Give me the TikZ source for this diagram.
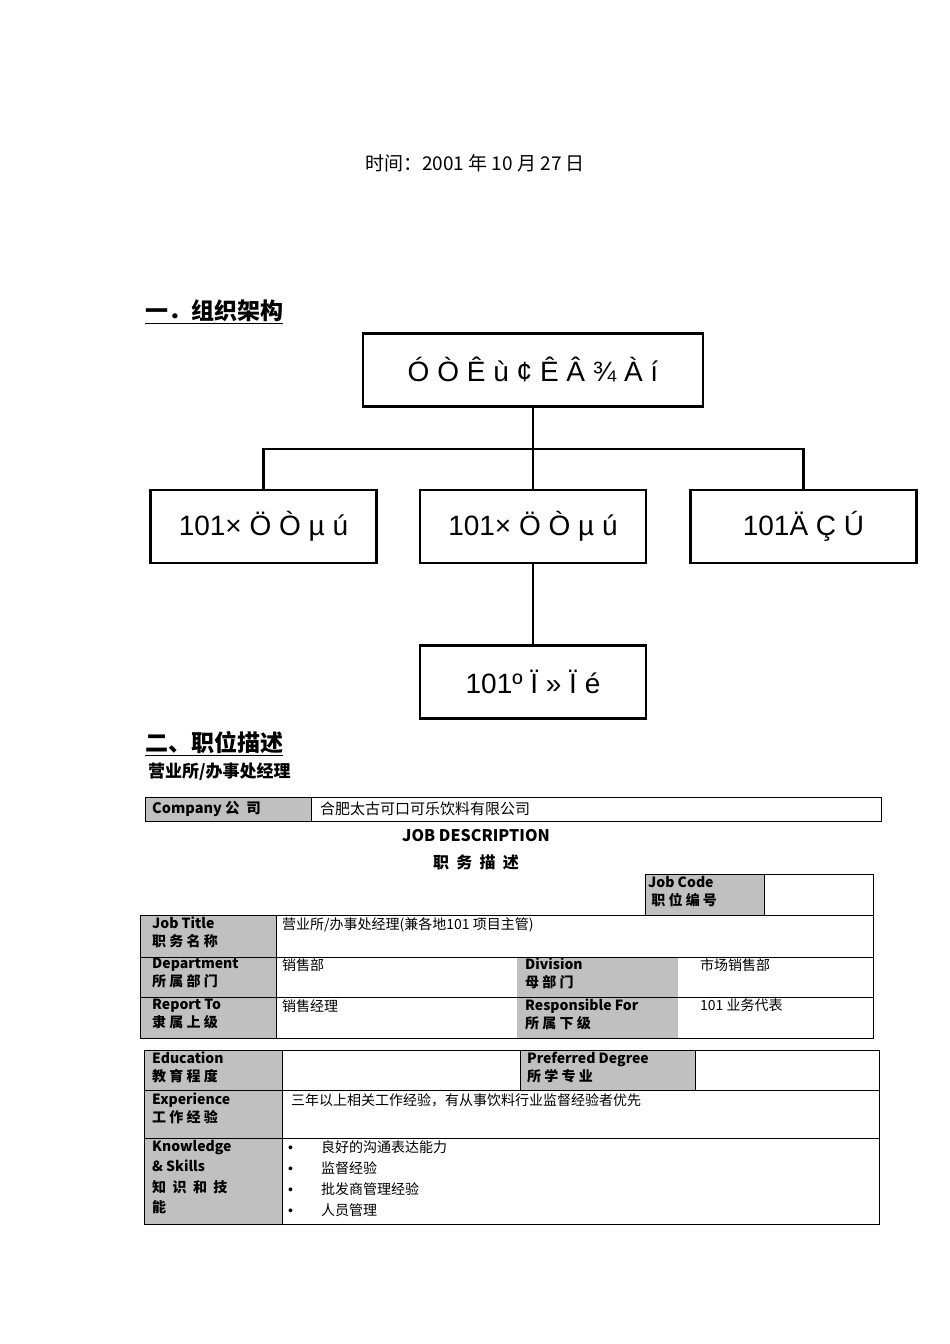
\documentclass[tikz,border=0pt]{standalone}
\usepackage{fontspec}
\setmainfont{Noto Sans CJK SC}
\newfontfamily\lat{Liberation Sans}
\definecolor{cellgray}{HTML}{C0C0C0}
\begin{document}
\begin{tikzpicture}[x=1pt,y=-1pt,
  orgbox/.style={draw,line width=2.2pt,minimum width=#1,minimum height=73pt,font=\lat\fontsize{28}{30}\selectfont},
  orgbox/.default=226pt,
  link/.style={line width=2.2pt},
  cellline/.style={draw,line width=1pt},
  graycell/.style={fill=cellgray,draw,line width=1pt},
  lbl/.style={anchor=north west,align=left,font=\fontsize{14}{18}\selectfont,inner sep=0pt},
  txt/.style={anchor=north west,align=left,font=\fontsize{14}{18}\selectfont,inner sep=0pt}]
\useasboundingbox (0,0) rectangle (950,1344);
\node[font=\fontsize{19}{22}\selectfont] (date) at (475,163) {时间：2001 年 10 月 27 日};
\node[anchor=west,font=\bfseries\fontsize{23}{26}\selectfont,inner sep=0pt] (h1) at (145,312) {\underline{一．组织架构}};
% org chart
\node[orgbox=340pt] (top) at (533,370) {Ó Ò Ê ù ¢ Ê Â ¾ À í};
\node[orgbox] (a) at (263.5,526.5) {101× Ö Ò µ ú};
\node[orgbox] (b) at (533,526.5) {101× Ö Ò µ ú};
\node[orgbox] (c) at (803.5,526.5) {101Ä Ç Ú};
\node[orgbox] (d) at (533,682) {101º Ï » Ï é};
\coordinate (j) at (533,449);
\draw[link] (top.south) -- (j);
\draw[link] (a.north) |- (j) -| (c.north);
\draw[link] (j) -- (b.north);
\draw[link] (b.south) -- (d.north);
\node[anchor=west,font=\bfseries\fontsize{23}{26}\selectfont,inner sep=0pt] (h2) at (145,744) {\underline{二、职位描述}};
\node[anchor=west,font=\bfseries\fontsize{17}{20}\selectfont,inner sep=0pt] (h3) at (148,772) {营业所/办事处经理};
% company row
\draw[graycell] (145,797) rectangle (311,821);
\draw[cellline] (311,797) rectangle (881,821);
\node[anchor=west,font=\bfseries\fontsize{14.5}{16}\selectfont,inner sep=0pt] (comp) at (152,809) {Company 公\ \ 司};
\node[anchor=west,font=\fontsize{15}{16}\selectfont,inner sep=0pt] (compv) at (320,809) {合肥太古可口可乐饮料有限公司};
\node[font=\bfseries\fontsize{16}{18}\selectfont] (jd) at (476,836) {JOB DESCRIPTION};
\node[font=\bfseries\fontsize{16}{18}\selectfont] (jd2) at (476,862) {职\ \ 务\ \ 描\ \ 述};
% job code
\draw[graycell] (645,874) rectangle (764,915);
\draw[cellline] (764,874) rectangle (873,915);
\node[lbl] (jc) at (648,876) {\textbf{Job Code}\\\ \textbf{职 位 编 号}};
% table 1
\fill[cellgray] (140,915) rectangle (276,1038);
\fill[cellgray] (517,957) rectangle (678,1038);
\draw[cellline] (140,915) rectangle (873,1038);
\draw[cellline] (140,957) -- (873,957);
\draw[cellline] (140,997) -- (873,997);
\draw[cellline] (276,915) -- (276,1038);
\node[lbl] (t1) at (152,917) {\textbf{Job Title}\\\textbf{职 务 名 称}};
\node[txt] (v1) at (282,917) {营业所/办事处经理(兼各地101 项目主管)};
\node[lbl] (t2) at (152,958) {\textbf{Department}\\\textbf{所 属 部 门}};
\node[txt] (v2) at (282,958) {销售部};
\node[lbl] (t3) at (525,958) {\textbf{Division}\\\textbf{母 部 门}};
\node[txt] (v3) at (700,958) {市场销售部};
\node[lbl] (t4) at (152,999) {\textbf{Report To}\\\textbf{隶 属 上 级}};
\node[txt] (v4) at (282,999) {销售经理};
\node[lbl] (t5) at (525,999) {\textbf{Responsible For}\\\textbf{所 属 下 级}};
\node[txt] (v5) at (700,999) {101 业务代表};
% table 2
\fill[cellgray] (144,1050) rectangle (282,1224);
\fill[cellgray] (520,1050) rectangle (695,1090);
\draw[cellline] (144,1050) rectangle (879,1224);
\draw[cellline] (144,1090) -- (879,1090);
\draw[cellline] (144,1138) -- (879,1138);
\draw[cellline] (282,1050) -- (282,1224);
\draw[cellline] (520,1050) -- (520,1090);
\draw[cellline] (695,1050) -- (695,1090);
\node[lbl] (e1) at (152,1052) {\textbf{Education}\\\textbf{教 育 程 度}};
\node[lbl] (e2) at (527,1052) {\textbf{Preferred Degree}\\\textbf{所 学 专 业}};
\node[lbl] (e3) at (152,1093) {\textbf{Experience}\\\textbf{工 作 经 验}};
\node[txt] (e4) at (291,1093) {三年以上相关工作经验，有从事饮料行业监督经验者优先};
\node[lbl,font=\fontsize{14}{20.5}\selectfont] (e5) at (152,1140) {\textbf{Knowledge}\\\textbf{\& Skills}\\\textbf{知\ \ 识\ \ 和\ \ 技}\\\textbf{能}};
\node[txt,font=\fontsize{14}{21}\selectfont] (e6) at (288,1140) {{\lat\textbullet}\qquad 良好的沟通表达能力\\{\lat\textbullet}\qquad 监督经验\\{\lat\textbullet}\qquad 批发商管理经验\\{\lat\textbullet}\qquad 人员管理};
\end{tikzpicture}
\end{document}
